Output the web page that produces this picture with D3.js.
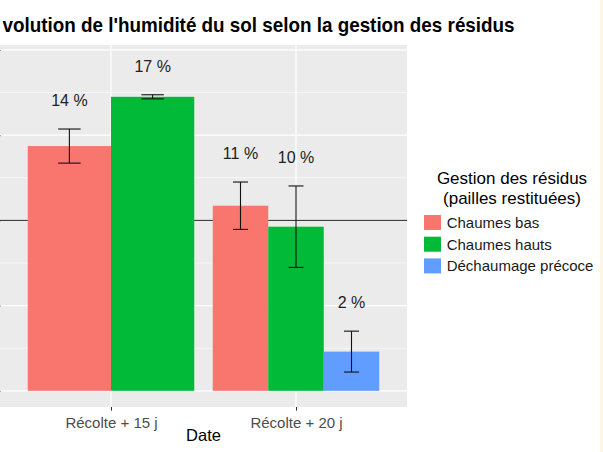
<!DOCTYPE html>
<html>
<head>
<meta charset="utf-8">
<script src="https://cdn.jsdelivr.net/npm/d3@7"></script>
<style>
	body { margin: 0; background: #fff; }
	svg { display: block; font-family: "Liberation Sans", Arial, sans-serif; }
</style>
</head>
<body>
<div id="c-svg"></div>
<script>

// data
const dates = ["Récolte + 15 j", "Récolte + 20 j"];
const gestions = ["Chaumes bas", "Chaumes hauts", "Déchaumage précoce"];
const gestionColors = ["#F8766D", "#00BA38", "#619CFF"];

const barDate = ["Récolte + 15 j", "Récolte + 15 j", "Récolte + 20 j", "Récolte + 20 j", "Récolte + 20 j"];
const barGestion = ["Chaumes bas", "Chaumes hauts", "Chaumes bas", "Chaumes hauts", "Déchaumage précoce"];
const humidite = [14.36, 17.25, 10.86, 9.63, 2.30];
const erreur = [1.0, 0.12, 1.39, 2.39, 1.2];
const etiquettes = ["14 %", "17 %", "11 %", "10 %", "2 %"];

const yTicks = [0, 5, 10, 15, 20];
const yMinor = [2.5, 7.5, 12.5, 17.5];
const seuil = 10;

function graph(){

	//sizing
	let width = 603;
	let height = 452;
	let panel = {left: 0, right: 407, top: 45, bottom: 407};

	let svg = d3.select("#c-svg")
		.append("svg")
		.attr("width", width)
		.attr("height", height);

	// faint cream strip on the right border
	svg.append("rect")
		.attr("x", 600).attr("y", 0)
		.attr("width", 3).attr("height", height)
		.attr("fill", "#fcf6e6");

	//scales
	let x = d3.scalePoint()
		.domain(dates)
		.range([panel.left, panel.right])
		.padding(0.6);

	let step = x.step();

	let y = d3.scaleLinear()
		.domain([-0.95, 20.29])
		.range([panel.bottom, panel.top]);

	let color = d3.scaleOrdinal()
		.domain(gestions)
		.range(gestionColors);

	// dodge scale inside each date
	let dodge = {};
	dates.forEach(function(dt){
		let groupe = barGestion.filter((g, i) => barDate[i] === dt);
		dodge[dt] = d3.scaleBand()
			.domain(groupe)
			.range([-0.45 * step, 0.45 * step])
			.padding(0);
	});

	let data = humidite.map(function(v, i){
		return {date: barDate[i], gestion: barGestion[i], value: v, se: erreur[i], label: etiquettes[i]};
	});

	//panel
	svg.append("clipPath").attr("id", "clip")
		.append("rect")
		.attr("x", panel.left).attr("y", panel.top)
		.attr("width", panel.right - panel.left)
		.attr("height", panel.bottom - panel.top);

	let g = svg.append("g").attr("clip-path", "url(#clip)");

	g.append("rect")
		.attr("x", panel.left).attr("y", panel.top)
		.attr("width", panel.right - panel.left)
		.attr("height", panel.bottom - panel.top)
		.attr("fill", "#EBEBEB");

	g.selectAll(".minor")
		.data(yMinor)
		.join("line")
		.attr("x1", panel.left).attr("x2", panel.right)
		.attr("y1", d => y(d)).attr("y2", d => y(d))
		.attr("stroke", "white")
		.attr("stroke-width", 0.6);

	g.selectAll(".major")
		.data(yTicks)
		.join("line")
		.attr("x1", panel.left).attr("x2", panel.right)
		.attr("y1", d => y(d)).attr("y2", d => y(d))
		.attr("stroke", "white")
		.attr("stroke-width", 1.2);

	g.selectAll(".vmajor")
		.data(dates)
		.join("line")
		.attr("x1", d => x(d)).attr("x2", d => x(d))
		.attr("y1", panel.top).attr("y2", panel.bottom)
		.attr("stroke", "white")
		.attr("stroke-width", 1.2);

	//reference line
	g.append("line")
		.attr("x1", panel.left).attr("x2", panel.right)
		.attr("y1", y(seuil)).attr("y2", y(seuil))
		.attr("stroke", "#262626")
		.attr("stroke-width", 1);

	//bars
	g.selectAll(".bar")
		.data(data)
		.join("rect")
		.attr("class", "bar")
		.attr("x", d => x(d.date) + dodge[d.date](d.gestion))
		.attr("width", d => dodge[d.date].bandwidth())
		.attr("y", d => y(d.value))
		.attr("height", d => y(0) - y(d.value))
		.attr("fill", d => color(d.gestion));

	//error bars
	let eb = g.selectAll(".eb")
		.data(data)
		.join("g")
		.attr("transform", d => `translate(${x(d.date) + dodge[d.date](d.gestion) + dodge[d.date].bandwidth() / 2},0)`)
		.attr("stroke", "#111")
		.attr("stroke-width", 1.1);

	eb.append("line")
		.attr("y1", d => y(d.value + d.se))
		.attr("y2", d => y(d.value - d.se));
	eb.append("line")
		.attr("x1", d => -dodge[d.date].bandwidth() * 0.135)
		.attr("x2", d => dodge[d.date].bandwidth() * 0.135)
		.attr("y1", d => y(d.value + d.se))
		.attr("y2", d => y(d.value + d.se));
	eb.append("line")
		.attr("x1", d => -dodge[d.date].bandwidth() * 0.135)
		.attr("x2", d => dodge[d.date].bandwidth() * 0.135)
		.attr("y1", d => y(d.value - d.se))
		.attr("y2", d => y(d.value - d.se));

	//labels
	g.selectAll(".lab")
		.data(data)
		.join("text")
		.attr("x", d => x(d.date) + dodge[d.date](d.gestion) + dodge[d.date].bandwidth() / 2)
		.attr("y", d => y(d.value + d.se + 1.7))
		.attr("dy", "0.36em")
		.attr("text-anchor", "middle")
		.attr("font-size", 16)
		.attr("fill", "#222")
		.text(d => d.label);

	//axes
	let yAxis = svg.append("g")
		.attr("transform", `translate(${panel.left + 0.5},0)`)
		.call(d3.axisLeft(y).tickValues(yTicks).tickSize(4).tickFormat(""));
	yAxis.select(".domain").remove();
	yAxis.selectAll("line").attr("stroke", "#333");

	let xAxis = svg.append("g")
		.attr("transform", `translate(0,${panel.bottom})`)
		.call(d3.axisBottom(x).tickSize(3.7).tickPadding(5));
	xAxis.select(".domain").remove();
	xAxis.selectAll("line").attr("stroke", "#333");
	xAxis.selectAll("text")
		.attr("font-family", "Liberation Sans, Arial, sans-serif")
		.attr("font-size", 15)
		.attr("fill", "#4D4D4D")
		.attr("y", 20.7)
		.attr("dy", 0);

	svg.append("text")
		.attr("x", (panel.left + panel.right) / 2)
		.attr("y", 441)
		.attr("text-anchor", "middle")
		.attr("font-size", 16.5)
		.attr("fill", "#000")
		.text("Date");

	//title (first letter hidden by the left border, as in the source image)
	svg.append("clipPath").attr("id", "clip-title")
		.append("rect")
		.attr("x", 2.6).attr("y", 0)
		.attr("width", width).attr("height", 44);

	let title = svg.append("g")
		.attr("clip-path", "url(#clip-title)")
		.append("text")
		.attr("x", 0)
		.attr("y", 32)
		.attr("font-size", 21)
		.attr("font-weight", "bold")
		.attr("fill", "#000")
		.text("Évolution de l'humidité du sol selon la gestion des résidus");

	let node = title.node();
	let n = node.getNumberOfChars();
	let start = node.getStartPositionOfChar(1).x;
	let end = node.getEndPositionOfChar(n - 1).x;
	let sx = (515 - 2.5) / (end - start);
	title.attr("transform", `translate(${2.5 - start * sx},0) scale(${sx},1)`);

	//legend
	let legend = svg.append("g");

	legend.selectAll(".lt")
		.data(["Gestion des résidus", "(pailles restituées)"])
		.join("text")
		.attr("x", 512)
		.attr("y", (d, i) => 184 + i * 19.5)
		.attr("text-anchor", "middle")
		.attr("font-size", 17)
		.attr("fill", "#000")
		.text(d => d);

	let items = legend.selectAll(".item")
		.data(gestions)
		.join("g")
		.attr("transform", (d, i) => `translate(424,${215 + i * 21.7})`);

	items.append("rect")
		.attr("width", 17)
		.attr("height", 15)
		.attr("fill", d => color(d));

	items.append("text")
		.attr("x", 22.7)
		.attr("y", 7.5)
		.attr("dy", "0.36em")
		.attr("font-size", 15)
		.attr("fill", "#1a1a1a")
		.text(d => d);

}

graph();

</script>
</body>
</html>
